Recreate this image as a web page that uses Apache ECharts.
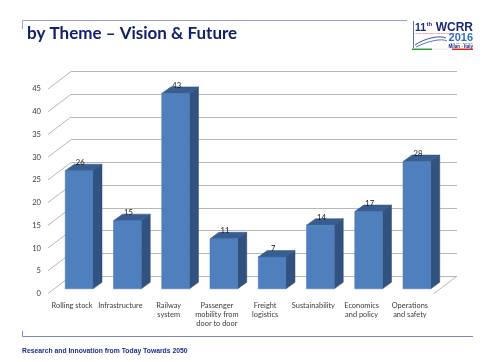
<!DOCTYPE html>
<html>
<head>
<meta charset="utf-8">
<script src="https://cdn.jsdelivr.net/npm/echarts@6/dist/echarts.min.js"></script>
<style>html,body{margin:0;padding:0;background:#fff;}#c{width:482px;height:362px;}</style>
</head>
<body>
<div id="c"></div>
<script>
const categories = ['Rolling stock', 'Infrastructure', 'Railway\nsystem', 'Passenger\nmobility from\ndoor to door', 'Freight\nlogistics', 'Sustainability', 'Economics\nand policy', 'Operations\nand safety'];
const values = [26, 15, 43, 11, 7, 14, 17, 28];
const yTicks = [0, 5, 10, 15, 20, 25, 30, 35, 40, 45];
const titleText = 'by Theme \u2013 Vision & Future';
const footerText = 'Research and Innovation from Today Towards 2050';

const DEPTH_X = 23, DEPTH_Y = -17.5;   // wall depth
const BX = 7, BY = -4.7;               // bar front-face inset
const SX = 9, SY = -6.5;               // bar depth
const GRID_COLOR = '#b7b7b7';

const chart = echarts.init(document.getElementById('c'));
chart.setOption({
  animation: false,
  backgroundColor: '#fff',
  grid: [
    {left: 48, right: 48, top: 89, bottom: 68.5},
    {left: 48 + DEPTH_X, right: 48 - DEPTH_X, top: 89 + DEPTH_Y, bottom: 68.5 - DEPTH_Y}
  ],
  xAxis: [
    {type: 'category', gridIndex: 0, data: categories, axisLine: {show: false}, axisTick: {show: false},
     axisLabel: {interval: 0, margin: 7, fontSize: 7.4, lineHeight: 9.4, color: '#3a3a3a', fontFamily: 'Lato'}},
    {type: 'category', gridIndex: 1, data: categories, show: false}
  ],
  yAxis: [
    {type: 'value', gridIndex: 0, min: 0, max: 45, interval: 5, axisLine: {show: false}, axisTick: {show: false},
     splitLine: {show: false}, axisLabel: {margin: 7, fontSize: 7.6, color: '#3a3a3a', fontFamily: 'Lato'}},
    {type: 'value', gridIndex: 1, min: 0, max: 45, interval: 5, axisLine: {show: false}, axisTick: {show: false},
     axisLabel: {show: false}, splitLine: {show: true, lineStyle: {color: GRID_COLOR, width: 1}}}
  ],
  series: [
    {
      type: 'custom', xAxisIndex: 0, yAxisIndex: 0, silent: true, z: 1,
      data: yTicks.map(t => [0, t]),
      renderItem: function (params, api) {
        const cs = params.coordSys;
        const y = api.coord([0, api.value(1)])[1];
        const children = [{
          type: 'line',
          shape: {x1: cs.x, y1: y, x2: cs.x + DEPTH_X, y2: y + DEPTH_Y},
          style: {stroke: GRID_COLOR, lineWidth: 1}
        }];
        if (api.value(1) === 0) {
          children.push({
            type: 'line',
            shape: {x1: cs.x + cs.width, y1: y, x2: cs.x + cs.width + DEPTH_X, y2: y + DEPTH_Y},
            style: {stroke: GRID_COLOR, lineWidth: 1}
          });
        }
        return {type: 'group', children: children};
      }
    },
    {
      type: 'custom', xAxisIndex: 0, yAxisIndex: 0, silent: true, z: 3,
      data: values.map((v, i) => [i, v]),
      encode: {x: 0, y: 1},
      renderItem: function (params, api) {
        const i = api.value(0), v = api.value(1);
        const top = api.coord([i, v]);
        const base = api.coord([i, 0]);
        const w = api.size([1, 0])[0] * 0.575;
        const x0 = top[0] - w / 2 + BX, x1 = x0 + w;
        const yb = base[1] + BY, yt = top[1] + BY;
        return {
          type: 'group',
          children: [
            {type: 'polygon', shape: {points: [[x1, yb], [x1, yt], [x1 + SX, yt + SY], [x1 + SX, yb + SY]]},
             style: {fill: '#31527f', stroke: '#2c4a74', lineWidth: 0.5}},
            {type: 'polygon', shape: {points: [[x0, yt], [x1, yt], [x1 + SX, yt + SY], [x0 + SX, yt + SY]]},
             style: {fill: '#385e91', stroke: '#2f5080', lineWidth: 0.5}},
            {type: 'rect', shape: {x: x0, y: yt, width: w, height: yb - yt},
             style: {fill: '#4f80bd', stroke: '#4774ad', lineWidth: 0.5}},
            {type: 'text', x: x0 + w / 2 + 1, y: yt - 8,
             style: {text: String(v), fill: '#111', fontSize: 7.6, fontFamily: 'Lato', align: 'center', verticalAlign: 'middle'}}
          ]
        };
      }
    }
  ],
  graphic: [
    {type: 'line', shape: {x1: 22.5, y1: 20.5, x2: 407, y2: 20.5}, style: {stroke: '#9a9fd6', lineWidth: 1}},
    {type: 'line', shape: {x1: 22.5, y1: 20.5, x2: 22.5, y2: 29}, style: {stroke: '#9a9fd6', lineWidth: 1}},
    {type: 'text', x: 27, y: 34, style: {text: titleText, fill: '#13216a', fontSize: 17, fontWeight: 'bold', fontFamily: 'Lato', verticalAlign: 'middle'}},
    {type: 'line', shape: {x1: 22.5, y1: 336.5, x2: 473, y2: 336.5}, style: {stroke: '#7d83cc', lineWidth: 1}},
    {type: 'line', shape: {x1: 22.5, y1: 331, x2: 22.5, y2: 336.5}, style: {stroke: '#7d83cc', lineWidth: 1}},
    {type: 'text', x: 22, y: 351, style: {text: footerText, fill: '#1d2d8c', fontSize: 6.8, fontWeight: 'bold', fontFamily: 'Liberation Sans', verticalAlign: 'middle'}},
    // logo
    {type: 'line', shape: {x1: 413.5, y1: 21, x2: 413.5, y2: 48}, style: {stroke: '#5b6cc0', lineWidth: 1}},
    {type: 'text', x: 415, y: 28, style: {text: '11', fill: '#1b2a7a', fontSize: 10.5, fontWeight: 'bold', fontFamily: 'Liberation Sans', verticalAlign: 'middle'}},
    {type: 'text', x: 426.5, y: 24.5, style: {text: 'th', fill: '#1b2a7a', fontSize: 6, fontWeight: 'bold', fontFamily: 'Liberation Sans', verticalAlign: 'middle'}},
    {type: 'text', x: 473, y: 28, style: {text: 'WCRR', fill: '#1b2a7a', fontSize: 12, fontWeight: 'bold', fontFamily: 'Liberation Sans', align: 'right', verticalAlign: 'middle'}},
    {type: 'text', x: 415, y: 33.5, style: {text: 'World Congress on Railway Research', fill: '#d33', fontSize: 2.5, fontFamily: 'Liberation Sans', verticalAlign: 'middle'}},
    {type: 'text', x: 473, y: 37.5, style: {text: '2016', fill: '#2f6fc0', fontSize: 11, fontWeight: 'bold', fontFamily: 'Liberation Sans', align: 'right', verticalAlign: 'middle'}},
    {type: 'text', x: 473, y: 43, style: {text: '29th May - 2nd June', fill: '#555', fontSize: 2.5, fontFamily: 'Liberation Sans', align: 'right', verticalAlign: 'middle'}},
    {type: 'text', x: 473, y: 46.3, style: {text: 'Milan - Italy', fill: '#1b2a7a', fontSize: 4.5, fontWeight: 'bold', fontFamily: 'Liberation Sans', align: 'right', verticalAlign: 'middle'}},
    {type: 'bezierCurve', shape: {x1: 415, y1: 45, x2: 446, y2: 38, cpx1: 425, cpy1: 38, cpx2: 440, cpy2: 35}, style: {stroke: '#3b4fa8', lineWidth: 1, fill: null}},
    {type: 'bezierCurve', shape: {x1: 416, y1: 47, x2: 447, y2: 41, cpx1: 428, cpy1: 41, cpx2: 442, cpy2: 38}, style: {stroke: '#3b4fa8', lineWidth: 0.8, fill: null}},
    {type: 'rect', shape: {x: 412, y: 48.5, width: 20, height: 1.5}, style: {fill: '#2e9a3e'}},
    {type: 'rect', shape: {x: 432, y: 48.5, width: 20, height: 1.5}, style: {fill: '#eeeeee'}},
    {type: 'rect', shape: {x: 452, y: 48.5, width: 21, height: 1.5}, style: {fill: '#d62a2a'}}
  ]
});
</script>
</body>
</html>
